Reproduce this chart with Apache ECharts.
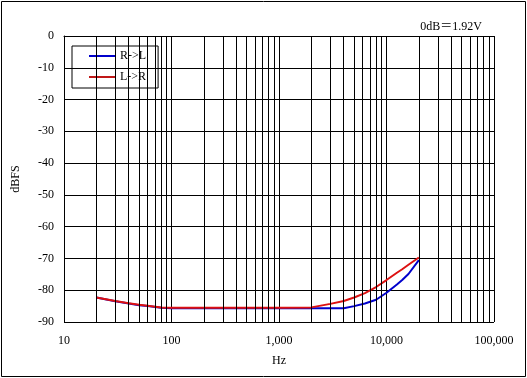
<!DOCTYPE html>
<html><head><meta charset="utf-8">
<script src="https://cdn.jsdelivr.net/npm/echarts@6/dist/echarts.min.js"></script>
<style>html,body{margin:0;padding:0;background:#fff}#c{width:527px;height:378px}</style>
</head><body><div id="c"></div>
<script>
var freqs = [20, 30, 40, 50, 60, 80, 100, 200, 500, 1000, 2000, 3000, 4000, 5000, 6300, 8000, 10000, 12500, 14000, 16000, 20000];
var rToL = [-82.3, -83.5, -84.2, -84.7, -85.0, -85.5, -85.7, -85.7, -85.7, -85.7, -85.7, -85.7, -85.7, -85.0, -84.2, -83.0, -80.8, -78.2, -76.8, -74.9, -70.5];
var lToR = [-82.3, -83.4, -84.1, -84.6, -84.9, -85.4, -85.5, -85.5, -85.5, -85.5, -85.4, -84.3, -83.4, -82.3, -80.9, -79.0, -76.8, -74.5, -73.4, -72.0, -69.7];
var minorFreqs = [20,30,40,50,60,70,80,90,200,300,400,500,600,700,800,900,2000,3000,4000,5000,6000,7000,8000,9000,20000,30000,40000,50000,60000,70000,80000,90000];
var seriesNames = ['R->L', 'L->R'];

function pairs(xs, ys){ return xs.map(function(x,i){ return [x, ys[i]]; }); }
var font = "'Liberation Serif', 'Times New Roman', serif";
var chart = echarts.init(document.getElementById('c'));
chart.setOption({
  animation: false,
  textStyle: {fontFamily: font},
  graphic: [{type:'rect', shape:{x:1.5,y:1.5,width:524,height:375}, style:{fill:'none', stroke:'#000', lineWidth:1}, z:0}],
  title: {text: '0dB\uFF1D1.92V', right: 40, top: 16, textStyle:{fontFamily: font + ", 'Noto Sans CJK JP'", fontSize: 12, fontWeight:'normal', color:'#000'}},
  legend: {
    data: seriesNames, orient:'vertical', left: 72, top: 46,
    borderColor:'#000', borderWidth:1, padding:[3,12,4,17], itemGap:7,
    itemWidth: 26, itemHeight: 2, icon:'rect',
    textStyle:{fontFamily: font, fontSize: 12, color:'#000', lineHeight:14}
  },
  grid: {left: 64, right: 33, top: 36, bottom: 56},
  xAxis: {
    type:'log', logBase:10, min:10, max:100000,
    name:'Hz', nameLocation:'middle', nameGap:33,
    nameTextStyle:{fontFamily: font, fontSize:12, color:'#000'},
    axisLine:{lineStyle:{color:'#000', width:1}},
    axisTick:{show:false},
    axisLabel:{color:'#000', fontFamily: font, fontSize:12, margin:13,
      formatter:function(v){ return Math.round(v).toLocaleString('en-US'); }},
    splitLine:{show:true, lineStyle:{color:'#000', width:1}},
    minorTick:{show:false}, minorSplitLine:{show:false}
  },
  yAxis: {
    type:'value', min:-90, max:0, interval:10,
    name:'dBFS', nameLocation:'middle', nameGap:42,
    nameTextStyle:{fontFamily: font, fontSize:12, color:'#000'},
    axisLine:{show:true, lineStyle:{color:'#000', width:1}},
    axisTick:{show:false},
    axisLabel:{color:'#000', fontFamily: font, fontSize:12, margin:10},
    splitLine:{show:true, lineStyle:{color:'#000', width:1}}
  },
  series: [
    {name:'grid', type:'line', data:[], z:1, silent:true,
      markLine:{silent:true, symbol:['none','none'], label:{show:false}, animation:false,
        lineStyle:{color:'#000', width:1, type:'solid'},
        emphasis:{disabled:true},
        data: minorFreqs.map(function(f){ return {xAxis:f}; })}},
    {name:seriesNames[0], type:'line', data:pairs(freqs, rToL), showSymbol:false, symbol:'none', z:3,
      lineStyle:{color:'#0000cc', width:2}, itemStyle:{color:'#0000cc'}},
    {name:seriesNames[1], type:'line', data:pairs(freqs, lToR), showSymbol:false, symbol:'none', z:4,
      lineStyle:{color:'#dd1111', width:2}, itemStyle:{color:'#c01818'}}
  ]
});
</script></body></html>
